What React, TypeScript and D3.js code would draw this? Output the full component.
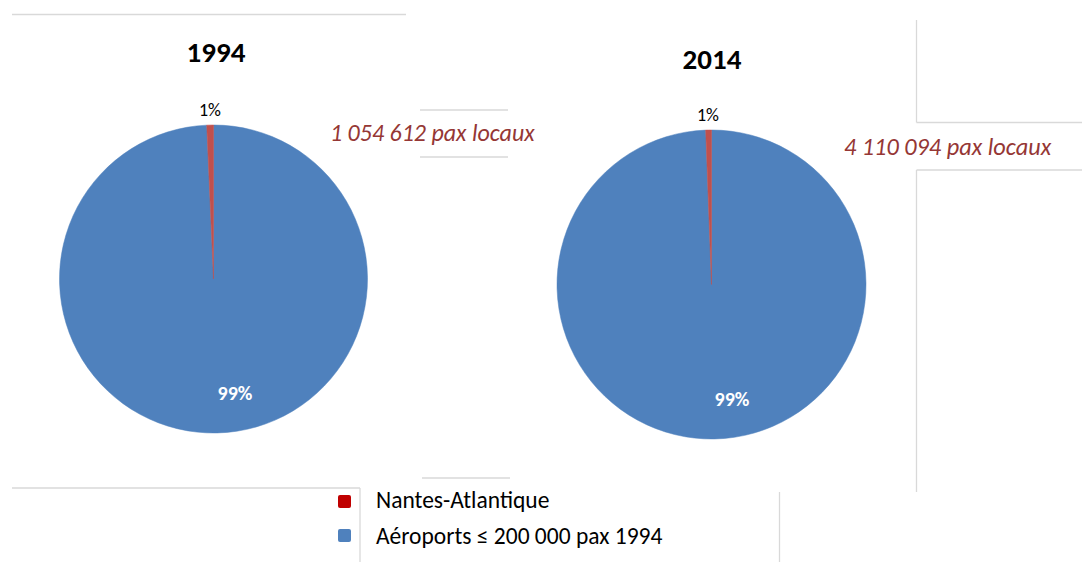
import React from "react";
import * as d3 from "d3";

const years = ["1994", "2014"];
const categories = ["Nantes-Atlantique", "Aéroports ≤ 200 000 pax 1994"];
const nantesShare = [0.7, 0.6];
const smallAirportsShare = [99.3, 99.4];
const pctLabelsSmall = ["1%", "1%"];
const pctLabelsLarge = ["99%", "99%"];
const paxLabels = ["1 054 612 pax locaux", "4 110 094 pax locaux"];

const W = 1082;
const H = 562;
const sliceColors = ["#c0504d", "#4f81bd"];
const legendColors = ["#c00000", "#4f81bd"];
const lineColor = "#d9d9d9";
const font = "Calibri, Carlito, 'Open Sans', 'Liberation Sans', sans-serif";

const pies = [
  { cx: 213.5, cy: 279, r: 154, titleX: 216, titleY: 62, smallY: 116, smallX: 210, bigX: 235, bigY: 400, paxX: 330, paxY: 141, paxSize: 24 },
  { cx: 711.5, cy: 284.5, r: 154.5, titleX: 712, titleY: 69, smallY: 121, smallX: 708, bigX: 732, bigY: 406, paxX: 844, paxY: 155, paxSize: 24.3 },
];

export default function App() {
  const pieGen = d3
    .pie<{ name: string; value: number; color: string }>()
    .sort(null)
    .value((d) => d.value);

  return (
    <svg width={W} height={H} style={{ position: "absolute", left: 0, top: 0, background: "#fff" }}>
      <g stroke={lineColor} strokeWidth={1.3} fill="none">
        <line x1={12} y1={14.5} x2={406} y2={14.5} />
        <line x1={420} y1={110} x2={508} y2={110} />
        <line x1={420} y1={157} x2={508} y2={157} />
        <line x1={916.5} y1={20} x2={916.5} y2={122.5} />
        <line x1={916.5} y1={122.5} x2={W} y2={122.5} />
        <line x1={916.5} y1={170} x2={W} y2={170} />
        <line x1={916.5} y1={170} x2={916.5} y2={492} />
        <line x1={422} y1={478} x2={510} y2={478} />
        <line x1={12} y1={488} x2={360} y2={488} />
        <line x1={360} y1={488} x2={360} y2={H} />
        <line x1={779.5} y1={492} x2={779.5} y2={H} />
      </g>
      {pies.map((p, i) => {
        const data = [
          { name: categories[1], value: smallAirportsShare[i], color: sliceColors[1] },
          { name: categories[0], value: nantesShare[i], color: sliceColors[0] },
        ];
        const arcs = pieGen(data);
        const arcGen = d3.arc<d3.PieArcDatum<any>>().innerRadius(0).outerRadius(p.r);
        return (
          <g key={years[i]}>
            <text x={p.titleX} y={p.titleY} textAnchor="middle" fontFamily={font} fontWeight="bold" fontSize={29} fill="#000">
              {years[i]}
            </text>
            <g transform={`translate(${p.cx},${p.cy})`}>
              {arcs.map((a) => (
                <path key={a.data.name} d={arcGen(a) || ""} fill={a.data.color} stroke={a.data.color} strokeWidth={0.5} />
              ))}
            </g>
            <text x={p.smallX} y={p.smallY} textAnchor="middle" fontFamily={font} fontSize={18} fill="#000">
              {pctLabelsSmall[i]}
            </text>
            <text x={p.bigX} y={p.bigY} textAnchor="middle" fontFamily={font} fontWeight="bold" fontSize={20} fill="#fff">
              {pctLabelsLarge[i]}
            </text>
            <text x={p.paxX} y={p.paxY} fontFamily={font} fontStyle="italic" fontSize={p.paxSize} fill="#953735">
              {paxLabels[i]}
            </text>
          </g>
        );
      })}
      {categories.map((c, i) => (
        <g key={c}>
          <rect x={338} y={495 + i * 34} width={13} height={13} rx={2} fill={legendColors[i]} />
          <text x={376} y={508 + i * 36} fontFamily={font} fontSize={23.5} fill="#000">
            {c}
          </text>
        </g>
      ))}
    </svg>
  );
}
